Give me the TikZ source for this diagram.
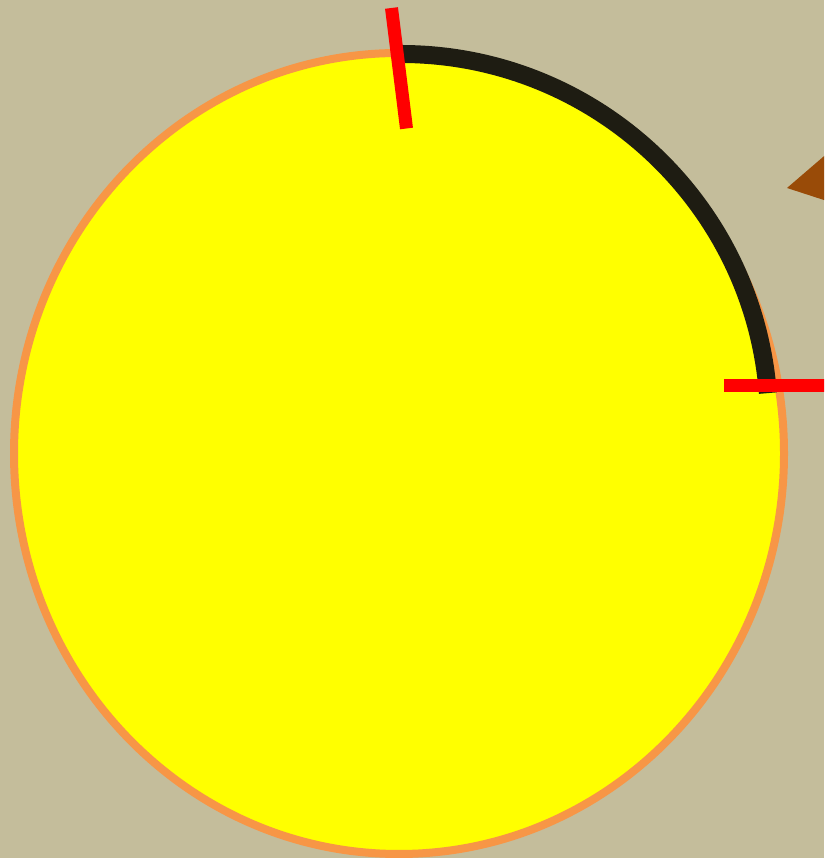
\documentclass[tikz,border=0pt]{standalone}
\definecolor{bgc}{RGB}{196,189,155}
\definecolor{ringc}{RGB}{247,150,70}
\definecolor{discc}{RGB}{255,255,0}
\definecolor{arcc}{RGB}{30,28,18}
\definecolor{tickc}{RGB}{255,0,0}
\definecolor{triac}{RGB}{153,75,8}
\tikzset{
  tickline/.style={draw=tickc,line width=13pt,line cap=butt},
  blackarc/.style={draw=arcc,line width=18pt,line cap=butt},
}
\begin{document}
\begin{tikzpicture}[x=1pt,y=1pt]
\useasboundingbox (0,0) rectangle (824,858);
\clip (0,0) rectangle (824,858);
\fill[bgc] (0,0) rectangle (824,858);
% sun disc
\coordinate (c) at (399,404.5);
\filldraw[fill=discc,draw=ringc,line width=8pt] (c) ellipse[x radius=385,y radius=400.5];
% black arc
\coordinate (ac) at (401,436);
\draw[blackarc] (401,804) arc[start angle=90,end angle=4.5,radius=368];
% red ticks
\coordinate (t1a) at (391.5,850);
\coordinate (t1b) at (406.5,729.5);
\draw[tickline] (t1a) -- (t1b);
\coordinate (t2a) at (724,472);
\coordinate (t2b) at (830,472);
\draw[tickline] (t2a) -- (t2b);
% brown triangle
\fill[triac] (787,670) -- (830,707) -- (830,656) -- cycle;
\end{tikzpicture}
\end{document}
